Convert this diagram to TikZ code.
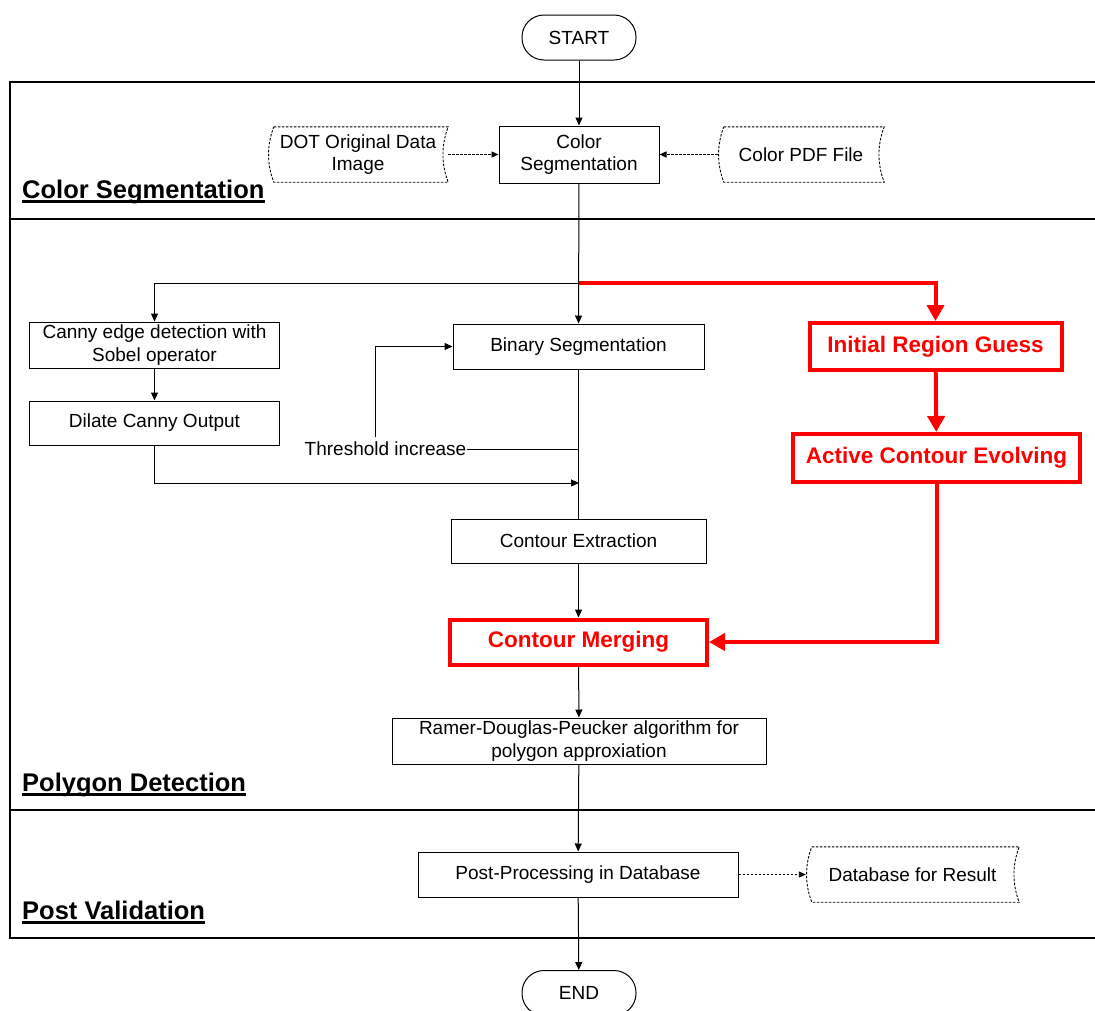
\documentclass[tikz,border=0pt]{standalone}
\usepackage{fontspec}
\setmainfont{Liberation Sans}
\usetikzlibrary{arrows.meta,calc}
\newcommand\sdshape[1]{\draw[line width=0.9pt, dash pattern=on 2.5pt off 1.5pt] ([xshift=6pt]#1.north west) -- (#1.north east) .. controls ([xshift=-7pt,yshift=-18pt]#1.north east) and ([xshift=-7pt,yshift=18pt]#1.south east) .. (#1.south east) -- ([xshift=6pt]#1.south west) .. controls ([xshift=-1pt,yshift=18pt]#1.south west) and ([xshift=-1pt,yshift=-18pt]#1.north west) .. cycle;}
\begin{document}
\begin{tikzpicture}[x=1pt,y=-1pt,
  every node/.style={font=\fontsize{19}{22.5}\selectfont},
  box/.style={draw, line width=1pt, align=center, inner sep=0pt, rectangle},
  redbox/.style={draw=red, line width=4pt, text=red, align=center, inner sep=0pt, font=\fontsize{22.5}{26}\selectfont\bfseries},
  term/.style={draw, line width=1pt, rounded corners=22pt, minimum width=114pt, minimum height=45pt, inner sep=0pt},
  datashape/.style={inner sep=0pt, align=center},
  arr/.style={-{Triangle[length=8pt,width=7pt]}, line width=1pt},
  darr/.style={-{Triangle[length=7pt,width=6pt]}, line width=0.9pt, dash pattern=on 2.5pt off 1.5pt},
  rarr/.style={-{Triangle[length=16pt,width=17pt]}, red, line width=4pt},
  lane/.style={line width=1.2pt},
  sec/.style={font=\fontsize{25.5}{30}\selectfont\bfseries, inner sep=0pt, anchor=base west},
]
\useasboundingbox (0,0) rectangle (1095,1010);

% lanes
\draw[lane] (1095,82) -- (10,82) -- (10,938) -- (1095,938);
\draw[lane] (10,219) -- (1095,219);
\draw[lane] (10,810) -- (1095,810);

% section labels
\node[sec] (l1) at (22,198) {Color Segmentation};
\node[sec] (l2) at (22,791) {Polygon Detection};
\node[sec] (l3) at (22,919) {Post Validation};
\foreach \l in {l1,l2,l3}
  \draw[line width=2.2pt] ([yshift=-3.5pt]\l.base west) -- ([yshift=-3.5pt]\l.base east);

% terminals
\node[term] (start) at (579,37.5) {START};
\node[term] (end) at (579,993) {END};

% top lane
\node[box, minimum width=160pt, minimum height=57pt] (cs) at (579,154.5) {Color\\Segmentation};
\node[datashape, minimum width=180pt, minimum height=55pt] (dot) at (358,154.5) {DOT Original Data\\Image};
\sdshape{dot}
\node[datashape, minimum width=166pt, minimum height=55pt] (pdf) at (801,154.5) {Color PDF File};
\sdshape{pdf}

% middle lane
\node[box, minimum width=250pt, minimum height=46pt] (canny) at (154.5,345) {Canny edge detection with\\Sobel operator};
\node[box, minimum width=250pt, minimum height=44pt] (dil) at (154.5,423) {Dilate Canny Output};
\node[box, minimum width=251pt, minimum height=45pt] (bs) at (578.5,346.5) {Binary Segmentation};
\node[box, minimum width=255pt, minimum height=44pt] (ce) at (578.5,541) {Contour Extraction};
\node[redbox, minimum width=257pt, minimum height=45pt] (cm) at (578.5,642) {Contour Merging};
\node[redbox, minimum width=252pt, minimum height=47pt] (irg) at (935.5,346.5) {Initial Region Guess};
\node[redbox, minimum width=287pt, minimum height=48pt] (ace) at (936.5,458) {Active Contour Evolving};
\node[box, minimum width=374pt, minimum height=46pt] (rdp) at (579,741) {Ramer-Douglas-Peucker algorithm for\\polygon approxiation};
\node[inner sep=1pt] (thr) at (385.5,449) {Threshold increase};

% bottom lane
\node[box, minimum width=320pt, minimum height=45pt] (pp) at (578,874.5) {Post-Processing in Database};
\node[datashape, minimum width=213pt, minimum height=55pt] (db) at (912.5,874.5) {Database for Result};
\sdshape{db}

% coordinates
\coordinate (j1) at (579,283);
\coordinate (j2) at (579,483);
\coordinate (j3) at (579,449);
\coordinate (t1) at (375,437);

% connectors
\draw[arr] (start) -- (cs);
\draw[arr] (cs) -- (bs);
\draw[arr] (j1) -| (canny.north);
\draw[arr] (canny) -- (dil);
\draw[line width=1pt] (bs) -- (ce);
\draw[line width=1pt] (j3) -- (thr.east);
\draw[arr] (t1) |- (bs.west);
\draw[arr] (dil.south) |- (j2);
\draw[arr] (ce) -- (cm);
\draw[arr] (cm) -- (rdp);
\draw[arr] (rdp) -- (pp);
\draw[arr] (pp) -- (end);
\draw[darr] (dot.east) -- (cs.west);
\draw[darr] (pdf.west) -- (cs.east);
\draw[darr] (pp.east) -- (db.west);

% red path
\draw[rarr] (j1) -| (irg.north);
\draw[rarr] (irg) -- (ace);
\draw[rarr] (ace.south) |- (cm.east);
\end{tikzpicture}
\end{document}
